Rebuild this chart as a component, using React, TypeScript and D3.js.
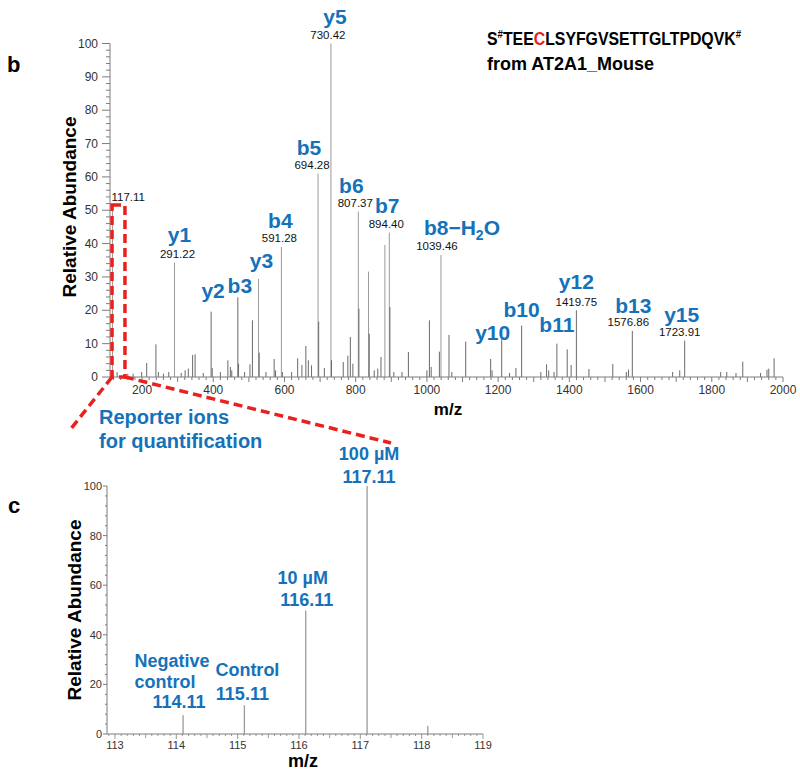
import React from "react";
import * as d3 from "d3";

// ---------- data: panel b (full MS/MS spectrum) ----------
const topMz = [
  117.11, 130, 160, 175, 199, 213, 239, 246, 260, 275, 291.22, 310, 321, 330, 342, 349, 372,
  394, 397, 420, 441, 448, 452, 469, 471, 488, 503, 510, 527, 529, 548, 571, 575, 591.28, 594,
  620, 637, 649, 660, 667, 676, 694.28, 696, 712, 730.42, 732, 765, 778, 785, 792, 807.37, 809,
  836, 838, 852, 862, 871, 882, 894.4, 896, 907, 930, 948, 1000, 1007, 1012, 1035, 1039.46,
  1062, 1070, 1109, 1179, 1183, 1210, 1232, 1250, 1266, 1320, 1336, 1342, 1357, 1365, 1394,
  1405, 1419.75, 1455, 1522, 1560, 1566, 1576.86, 1690, 1710, 1723.91, 1825, 1842, 1868, 1887,
  1937, 1955, 1960, 1975,
];
const topInt = [
  51, 1.5, 1, 1, 1.5, 4.2, 9.8, 1.5, 1, 1.5, 34.3, 1.2, 2, 2.5, 6.6, 6.8, 1.2,
  19.6, 2.7, 1.5, 5, 3, 2, 23.9, 4, 1.5, 3.8, 17, 29.4, 7.3, 1.5, 5.4, 2, 39, 1.5,
  1.5, 5.6, 3.6, 9.3, 5, 3.5, 61, 16.6, 2.7, 100, 5, 4.5, 6.4, 12, 4, 49.6, 20.5,
  31.6, 13, 2, 2.5, 6, 39.6, 43.3, 21, 1.5, 1.5, 7.5, 2, 17, 3, 7.6, 36.6,
  12.6, 1.5, 10.6, 5.4, 2, 11.3, 1.2, 2.7, 15.4, 1.5, 3.8, 2, 1.5, 10, 8.3,
  3.6, 20, 2.4, 3.9, 1.5, 2.2, 13.8, 1.5, 2, 10.9, 1.5, 1.5, 1.2, 4.6,
  1.2, 2.2, 2.5, 5.6,
];

// annotated fragment ions
const ionNames = ["y1", "y2", "b3", "y3", "b4", "b5", "y5", "b6", "b7", "b8-H2O", "y10", "b10", "b11", "y12", "b13", "y15"];
const ionMz = [291.22, 394, 469, 527, 591.28, 694.28, 730.42, 807.37, 894.4, 1039.46, 1210, 1266, 1365, 1419.75, 1576.86, 1723.91];
const ionShowMass = [true, false, false, false, true, true, true, true, true, true, false, false, false, true, true, true];

// ---------- data: panel c (reporter ions) ----------
const repMz = [114.11, 115.11, 116.11, 117.11, 118.1];
const repInt = [7.6, 11.6, 49.8, 100, 3.2];
const repLabelLines = [["Negative", "control", "114.11"], ["Control", "115.11"], ["10 µM", "116.11"], ["100 µM", "117.11"], []];

const topXTicks = [200, 400, 600, 800, 1000, 1200, 1400, 1600, 1800, 2000];
const topYTicks = [0, 10, 20, 30, 40, 50, 60, 70, 80, 90, 100];
const botXTicks = [113, 114, 115, 116, 117, 118, 119];
const botYTicks = [0, 20, 40, 60, 80, 100];

// ---------- layout (label offsets in px) ----------
const ionLayout: Record<string, { dxM: number; dxI: number; dyI: number }> = {
  y1: { dxM: 3, dxI: 5, dyI: -21 },
  y2: { dxM: 0, dxI: 2, dyI: -14 },
  b3: { dxM: 0, dxI: 2, dyI: -4 },
  y3: { dxM: 0, dxI: 3, dyI: -11 },
  b4: { dxM: -2, dxI: -1, dyI: -19 },
  b5: { dxM: -6, dxI: -9, dyI: -19 },
  y5: { dxM: -3, dxI: 4, dyI: -20 },
  b6: { dxM: -3, dxI: -7, dyI: -19 },
  b7: { dxM: -3, dxI: -2, dyI: -20 },
  "b8-H2O": { dxM: -4, dxI: 21, dyI: -20 },
  y10: { dxM: 0, dxI: -9, dyI: 1 },
  b10: { dxM: 0, dxI: 0, dyI: -9 },
  b11: { dxM: 0, dxI: 0, dyI: -12 },
  y12: { dxM: 0, dxI: 0, dyI: -21 },
  b13: { dxM: -4, dxI: 1, dyI: -18 },
  y15: { dxM: -5, dxI: -3, dyI: -19 },
};
const repLayout = [
  { dx: -4, dyTop: -7, lh: 20.5 },
  { dx: -2, dyTop: -5, lh: 24 },
  { dx: 1, dyTop: -4, lh: 22 },
  { dx: 2, dyTop: -3, lh: 23 },
  { dx: 0, dyTop: 0, lh: 0 },
];

const FONT = "'Liberation Sans', Arial, sans-serif";
const BLUE = "#1572ba";
const AX = "#7d7d7d";

function range(a: number, b: number, s: number) {
  const out: number[] = [];
  for (let v = a; v <= b + 1e-9; v += s) out.push(Math.round(v * 1000) / 1000);
  return out;
}

export default function App() {
  // panel b scales
  const xT = d3.scaleLinear().domain([110, 2000]).range([110, 783]);
  const yT = d3.scaleLinear().domain([0, 100]).range([377, 43.5]);
  // panel c scales
  const xB = d3.scaleLinear().domain([112.87, 119]).range([107, 483]);
  const yB = d3.scaleLinear().domain([0, 100]).range([734, 486]);

  const topMinorX = range(120, 2000, 20);
  const topMinorY = range(0, 100, 2);
  const botMinorX = range(112.9, 119, 0.1);
  const botMinorY = range(0, 100, 4);

  const ionText = (name: string) => {
    if (name === "b8-H2O")
      return (
        <>
          b8−H<tspan fontSize="14" dy="5">2</tspan>
          <tspan dy="-5">O</tspan>
        </>
      );
    return name;
  };

  const boxL = xT(117.11) - 0.5;
  const boxR = xT(152);
  const boxT = yT(51.6);

  return (
    <svg width={800} height={777} style={{ position: "absolute", left: 0, top: 0, background: "#fff" }} fontFamily={FONT}>
      <rect x={0} y={0} width={800} height={777} fill="#fff" />
      {/* panel letters */}
      <text x={7} y={72} fontSize={22} fontWeight="bold" fill="#000">b</text>
      <text x={8} y={513} fontSize={22} fontWeight="bold" fill="#000">c</text>

      {/* title */}
      <g transform="translate(487,45) scale(0.88,1)">
        <text x={0} y={0} fontSize={18} fontWeight="bold" fill="#000">
          S<tspan fontSize={11} dy={-7}>#</tspan>
          <tspan dy={7}>TEE</tspan>
          <tspan fill="#e8221c">C</tspan>LSYFGVSETTGLTPDQVK<tspan fontSize={11} dy={-7}>#</tspan>
        </text>
      </g>
      <text x={487} y={70} fontSize={18} fontWeight="bold" fill="#000">from AT2A1_Mouse</text>

      {/* ===== panel b ===== */}
      <g>
        {/* peaks */}
        {topMz.map((m, i) => (
          <line key={"p" + i} x1={xT(m)} x2={xT(m)} y1={yT(0)} y2={yT(topInt[i])} stroke={topInt[i] > 25 ? "#9a9a9a" : "#6a6a6a"} strokeWidth={1} />
        ))}
        {/* axes */}
        <line x1={110} x2={110} y1={yT(0)} y2={yT(100)} stroke={AX} strokeWidth={1} />
        <line x1={110} x2={xT(2000)} y1={yT(0)} y2={yT(0)} stroke={AX} strokeWidth={1} />
        {topMinorY.map((v) => (
          <line key={"ty" + v} x1={110} x2={v % 10 === 0 ? 102 : 106} y1={yT(v)} y2={yT(v)} stroke={AX} strokeWidth={1} />
        ))}
        {topYTicks.map((v) => (
          <text key={"tyl" + v} x={98} y={yT(v) + 4} fontSize={12} fill="#333" textAnchor="end">{v}</text>
        ))}
        {topMinorX.map((v) => (
          <line key={"tx" + v} x1={xT(v)} x2={xT(v)} y1={yT(0)} y2={yT(0) + (v % 100 === 0 ? 5 : 3)} stroke={AX} strokeWidth={1} />
        ))}
        {topXTicks.map((v) => (
          <text key={"txl" + v} x={xT(v)} y={394} fontSize={12} fill="#333" textAnchor="middle">{v}</text>
        ))}
        <text x={448} y={415} fontSize={17} fontWeight="bold" textAnchor="middle" fill="#000">m/z</text>
        <text transform="translate(76,207) rotate(-90)" fontSize={19} fontWeight="bold" textAnchor="middle" fill="#000">Relative Abundance</text>

        {/* labels */}
        <text x={xT(117.11) - 1} y={yT(51) - 6} fontSize={11.5} fill="#111">117.11</text>
        {ionNames.map((n, i) => {
          const px = xT(ionMz[i]);
          const top = yT(topInt[topMz.indexOf(ionMz[i])]);
          const L = ionLayout[n];
          const mb = top - 4.5;
          return (
            <g key={"ion" + n}>
              {ionShowMass[i] && (
                <text x={px + L.dxM} y={mb} fontSize={11.5} fill="#111" textAnchor="middle">{ionMz[i].toFixed(2)}</text>
              )}
              <text x={px + L.dxI} y={top + L.dyI} fontSize={21} fontWeight="bold" fill={BLUE} textAnchor="middle">{ionText(n)}</text>
            </g>
          );
        })}

        {/* zoom box + connectors */}
        <g stroke="#e8211f" strokeWidth={3.5} strokeDasharray="9,5" fill="none">
          <rect x={boxL} y={boxT} width={boxR - boxL} height={yT(0) - boxT} />
          <line x1={boxL} y1={yT(0)} x2={70} y2={430} />
          <line x1={boxR} y1={yT(0)} x2={391} y2={443} />
        </g>
        <text x={99} y={424} fontSize={20} fontWeight="bold" fill={BLUE}>Reporter ions</text>
        <text x={99} y={448} fontSize={20} fontWeight="bold" fill={BLUE}>for quantification</text>
      </g>

      {/* ===== panel c ===== */}
      <g>
        {repMz.map((m, i) => (
          <line key={"r" + i} x1={xB(m)} x2={xB(m)} y1={yB(0)} y2={yB(repInt[i])} stroke="#9a9a9a" strokeWidth={1.3} />
        ))}
        <line x1={107} x2={107} y1={yB(0)} y2={yB(100)} stroke={AX} strokeWidth={1} />
        <line x1={107} x2={xB(119)} y1={yB(0)} y2={yB(0)} stroke={AX} strokeWidth={1} />
        {botMinorY.map((v) => (
          <line key={"by" + v} x1={107} x2={v % 20 === 0 ? 103 : 105} y1={yB(v)} y2={yB(v)} stroke={AX} strokeWidth={1} />
        ))}
        {botYTicks.map((v) => (
          <text key={"byl" + v} x={102} y={yB(v) + 4} fontSize={11} fill="#333" textAnchor="end">{v}</text>
        ))}
        {botMinorX.map((v) => {
          const frac = Math.round((v - Math.floor(v + 1e-6)) * 10);
          const len = frac === 0 ? 5 : frac === 5 ? 4 : 2;
          return <line key={"bx" + v} x1={xB(v)} x2={xB(v)} y1={yB(0)} y2={yB(0) + len} stroke={AX} strokeWidth={0.8} />;
        })}
        {botXTicks.map((v) => (
          <text key={"bxl" + v} x={xB(v)} y={749} fontSize={11} fill="#333" textAnchor="middle">{v}</text>
        ))}
        <text x={303} y={767} fontSize={18} fontWeight="bold" textAnchor="middle" fill="#000">m/z</text>
        <text transform="translate(81,610) rotate(-90)" fontSize={19} fontWeight="bold" textAnchor="middle" fill="#000">Relative Abundance</text>

        {repMz.map((m, i) => {
          const lines = repLabelLines[i];
          if (!lines.length) return null;
          const L = repLayout[i];
          const base = yB(repInt[i]) + L.dyTop;
          return (
            <g key={"rl" + i}>
              {lines.map((t, j) => (
                <text key={j} x={xB(m) + L.dx + (i === 0 && j === 1 ? -14 : i === 0 && j === 0 ? -7 : 0) + (i === 1 && j === 0 ? 5 : 0) + (i === 2 && j === 0 ? -4 : 0)} y={base - (lines.length - 1 - j) * L.lh} fontSize={18} fontWeight="bold" fill={BLUE} textAnchor="middle">{t}</text>
              ))}
            </g>
          );
        })}
      </g>
    </svg>
  );
}
